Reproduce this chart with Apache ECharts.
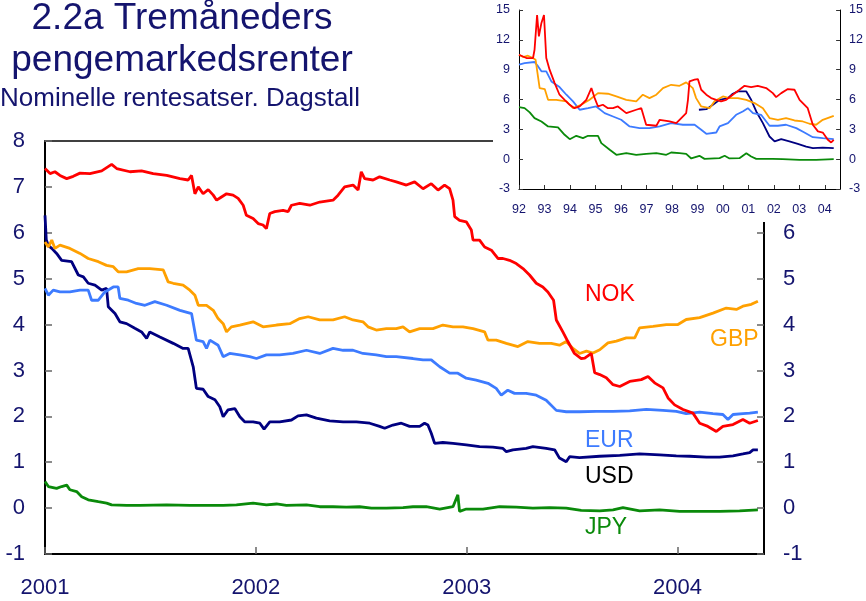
<!DOCTYPE html>
<html>
<head>
<meta charset="utf-8">
<script src="https://cdn.jsdelivr.net/npm/echarts@6/dist/echarts.min.js"></script>
<style>
  html, body { margin: 0; padding: 0; background: #fff; }
  #chart { width: 866px; height: 601px; }
</style>
</head>
<body>
<div id="chart"></div>
<script>
// main chart, daily rates 2001 - mid 2004, [year fraction, percent]
var nok = [
  [2001.000, 7.40], [2001.024, 7.29], [2001.047, 7.33], [2001.071, 7.25], [2001.103, 7.18], [2001.134, 7.23],
  [2001.166, 7.30], [2001.213, 7.29], [2001.269, 7.35], [2001.316, 7.49], [2001.340, 7.40], [2001.403, 7.33],
  [2001.458, 7.35], [2001.513, 7.29], [2001.577, 7.25], [2001.640, 7.18], [2001.679, 7.15], [2001.695, 7.25],
  [2001.711, 6.85], [2001.727, 7.00], [2001.750, 6.85], [2001.774, 6.94], [2001.798, 6.82], [2001.814, 6.71],
  [2001.837, 6.78], [2001.861, 6.85], [2001.892, 6.82], [2001.916, 6.75], [2001.940, 6.60], [2001.955, 6.38],
  [2001.987, 6.31], [2002.011, 6.20], [2002.034, 6.17], [2002.050, 6.09], [2002.066, 6.42], [2002.090, 6.46],
  [2002.129, 6.49], [2002.153, 6.46], [2002.169, 6.60], [2002.208, 6.64], [2002.256, 6.60], [2002.303, 6.67],
  [2002.366, 6.71], [2002.390, 6.82], [2002.421, 7.00], [2002.461, 7.04], [2002.485, 6.93], [2002.500, 7.33],
  [2002.516, 7.18], [2002.556, 7.15], [2002.587, 7.22], [2002.635, 7.15], [2002.666, 7.11], [2002.714, 7.04],
  [2002.753, 7.11], [2002.793, 6.96], [2002.832, 7.07], [2002.864, 6.93], [2002.895, 7.04], [2002.919, 6.96],
  [2002.935, 6.71], [2002.943, 6.35], [2002.966, 6.27], [2002.998, 6.24], [2003.022, 6.06], [2003.030, 5.84],
  [2003.061, 5.84], [2003.085, 5.69], [2003.117, 5.62], [2003.148, 5.44], [2003.172, 5.44], [2003.203, 5.40],
  [2003.235, 5.33], [2003.267, 5.22], [2003.298, 5.08], [2003.330, 4.90], [2003.361, 4.82], [2003.385, 4.71],
  [2003.412, 4.53], [2003.425, 4.10], [2003.456, 3.84], [2003.480, 3.63], [2003.511, 3.37], [2003.543, 3.26],
  [2003.560, 3.27], [2003.591, 3.37], [2003.607, 2.95], [2003.631, 2.91], [2003.662, 2.84], [2003.694, 2.69],
  [2003.726, 2.65], [2003.773, 2.76], [2003.828, 2.80], [2003.860, 2.87], [2003.891, 2.73], [2003.931, 2.62],
  [2003.955, 2.40], [2003.986, 2.25], [2004.026, 2.15], [2004.073, 2.07], [2004.105, 1.85], [2004.144, 1.78],
  [2004.184, 1.67], [2004.215, 1.78], [2004.263, 1.82], [2004.310, 1.93], [2004.342, 1.85], [2004.381, 1.91]
]
var gbp = [
  [2001.000, 5.80], [2001.016, 5.69], [2001.032, 5.84], [2001.047, 5.66], [2001.071, 5.73], [2001.118, 5.66],
  [2001.166, 5.55], [2001.205, 5.44], [2001.253, 5.37], [2001.292, 5.29], [2001.324, 5.26], [2001.347, 5.15],
  [2001.387, 5.15], [2001.442, 5.22], [2001.497, 5.22], [2001.561, 5.19], [2001.584, 4.93], [2001.608, 4.90],
  [2001.655, 4.86], [2001.687, 4.75], [2001.711, 4.64], [2001.727, 4.42], [2001.766, 4.42], [2001.798, 4.31],
  [2001.821, 4.13], [2001.845, 4.02], [2001.861, 3.84], [2001.884, 3.95], [2001.924, 3.99], [2001.987, 4.06],
  [2002.034, 3.95], [2002.098, 3.99], [2002.161, 4.02], [2002.208, 4.13], [2002.248, 4.17], [2002.303, 4.10],
  [2002.366, 4.10], [2002.421, 4.17], [2002.461, 4.10], [2002.508, 4.06], [2002.532, 3.95], [2002.571, 3.88],
  [2002.619, 3.91], [2002.666, 3.91], [2002.698, 3.95], [2002.729, 3.84], [2002.777, 3.91], [2002.840, 3.91],
  [2002.887, 3.99], [2002.935, 3.95], [2002.982, 3.95], [2003.030, 3.91], [2003.085, 3.84], [2003.101, 3.66],
  [2003.140, 3.66], [2003.188, 3.59], [2003.243, 3.52], [2003.290, 3.63], [2003.345, 3.59], [2003.401, 3.59],
  [2003.440, 3.55], [2003.472, 3.63], [2003.504, 3.48], [2003.535, 3.37], [2003.568, 3.42], [2003.599, 3.38],
  [2003.631, 3.45], [2003.670, 3.60], [2003.710, 3.64], [2003.757, 3.71], [2003.797, 3.71], [2003.820, 3.93],
  [2003.884, 3.96], [2003.947, 4.00], [2004.002, 4.00], [2004.041, 4.11], [2004.105, 4.15], [2004.168, 4.25],
  [2004.231, 4.36], [2004.279, 4.33], [2004.310, 4.40], [2004.350, 4.44], [2004.381, 4.51]
]
var eur = [
  [2001.000, 4.79], [2001.016, 4.64], [2001.039, 4.75], [2001.071, 4.71], [2001.118, 4.71], [2001.166, 4.75],
  [2001.205, 4.75], [2001.221, 4.53], [2001.253, 4.53], [2001.284, 4.71], [2001.324, 4.82], [2001.347, 4.82],
  [2001.355, 4.57], [2001.395, 4.53], [2001.434, 4.46], [2001.474, 4.42], [2001.521, 4.50], [2001.577, 4.42],
  [2001.640, 4.31], [2001.695, 4.24], [2001.718, 3.66], [2001.750, 3.63], [2001.766, 3.48], [2001.782, 3.66],
  [2001.821, 3.55], [2001.845, 3.30], [2001.876, 3.37], [2001.924, 3.34], [2001.971, 3.30], [2002.003, 3.26],
  [2002.050, 3.34], [2002.113, 3.34], [2002.176, 3.37], [2002.240, 3.44], [2002.303, 3.37], [2002.366, 3.48],
  [2002.414, 3.44], [2002.461, 3.44], [2002.508, 3.37], [2002.571, 3.34], [2002.619, 3.30], [2002.666, 3.30],
  [2002.745, 3.26], [2002.793, 3.23], [2002.832, 3.23], [2002.872, 3.08], [2002.919, 2.94], [2002.958, 2.94],
  [2002.998, 2.83], [2003.045, 2.79], [2003.101, 2.72], [2003.140, 2.61], [2003.164, 2.46], [2003.195, 2.57],
  [2003.227, 2.50], [2003.282, 2.50], [2003.330, 2.46], [2003.377, 2.35], [2003.425, 2.13], [2003.472, 2.10],
  [2003.535, 2.10], [2003.615, 2.11], [2003.694, 2.11], [2003.773, 2.12], [2003.852, 2.15], [2003.931, 2.13],
  [2003.994, 2.11], [2004.041, 2.06], [2004.105, 2.09], [2004.168, 2.06], [2004.215, 2.04], [2004.239, 1.93],
  [2004.263, 2.04], [2004.310, 2.06], [2004.342, 2.07], [2004.381, 2.09]
]
var usd = [
  [2001.000, 6.38], [2001.006, 5.85], [2001.016, 5.72], [2001.032, 5.66], [2001.055, 5.55], [2001.079, 5.40],
  [2001.126, 5.37], [2001.158, 5.08], [2001.182, 5.04], [2001.205, 4.90], [2001.237, 4.86], [2001.269, 4.75],
  [2001.292, 4.79], [2001.300, 4.39], [2001.332, 4.24], [2001.355, 4.06], [2001.387, 4.02], [2001.426, 3.92],
  [2001.458, 3.84], [2001.482, 3.70], [2001.497, 3.84], [2001.545, 3.73], [2001.608, 3.59], [2001.655, 3.48],
  [2001.679, 3.48], [2001.703, 3.08], [2001.718, 2.61], [2001.750, 2.59], [2001.774, 2.43], [2001.806, 2.36],
  [2001.829, 2.21], [2001.845, 1.99], [2001.868, 2.14], [2001.900, 2.17], [2001.924, 1.99], [2001.947, 1.88],
  [2001.987, 1.88], [2002.019, 1.85], [2002.039, 1.72], [2002.066, 1.88], [2002.113, 1.88], [2002.169, 1.92],
  [2002.200, 2.01], [2002.240, 2.03], [2002.287, 1.96], [2002.350, 1.90], [2002.414, 1.88], [2002.477, 1.88],
  [2002.540, 1.85], [2002.587, 1.78], [2002.611, 1.74], [2002.650, 1.81], [2002.690, 1.85], [2002.729, 1.78],
  [2002.777, 1.78], [2002.800, 1.85], [2002.816, 1.81], [2002.832, 1.63], [2002.848, 1.41], [2002.887, 1.43],
  [2002.935, 1.41], [2002.998, 1.38], [2003.061, 1.34], [2003.124, 1.33], [2003.172, 1.30], [2003.188, 1.23],
  [2003.219, 1.27], [2003.282, 1.30], [2003.314, 1.34], [2003.377, 1.30], [2003.417, 1.27], [2003.440, 1.09],
  [2003.472, 1.01], [2003.488, 1.12], [2003.535, 1.10], [2003.631, 1.13], [2003.726, 1.15], [2003.820, 1.18],
  [2003.915, 1.16], [2003.994, 1.14], [2004.057, 1.13], [2004.137, 1.11], [2004.199, 1.11], [2004.263, 1.14],
  [2004.310, 1.18], [2004.342, 1.21], [2004.358, 1.27], [2004.381, 1.27]
]
var jpy = [
  [2001.000, 0.58], [2001.016, 0.47], [2001.055, 0.43], [2001.079, 0.47], [2001.103, 0.50], [2001.118, 0.40],
  [2001.150, 0.36], [2001.174, 0.25], [2001.205, 0.18], [2001.253, 0.14], [2001.292, 0.11], [2001.316, 0.07],
  [2001.387, 0.06], [2001.450, 0.06], [2001.577, 0.07], [2001.687, 0.06], [2001.845, 0.06], [2001.908, 0.07],
  [2001.987, 0.11], [2002.050, 0.07], [2002.098, 0.09], [2002.145, 0.06], [2002.240, 0.07], [2002.303, 0.03],
  [2002.366, 0.03], [2002.429, 0.02], [2002.492, 0.03], [2002.548, 0.00], [2002.619, 0.00], [2002.698, 0.01],
  [2002.745, 0.03], [2002.808, 0.03], [2002.872, -0.02], [2002.935, 0.03], [2002.958, 0.29], [2002.966, -0.07],
  [2002.998, -0.02], [2003.077, -0.02], [2003.156, 0.03], [2003.235, 0.02], [2003.314, 0.00], [2003.393, 0.01],
  [2003.472, 0.00], [2003.543, -0.05], [2003.631, -0.06], [2003.694, -0.04], [2003.741, 0.01], [2003.820, -0.06],
  [2003.915, -0.04], [2004.010, -0.07], [2004.105, -0.07], [2004.199, -0.07], [2004.294, -0.06], [2004.381, -0.04]
]

// small chart, 1992 - 2004
var nokLong = [
  [1992.00, 10.5], [1992.29, 10.17], [1992.55, 10.17], [1992.61, 11.0], [1992.71, 14.5], [1992.78, 12.35],
  [1992.88, 13.7], [1992.98, 14.5], [1993.07, 10.17], [1993.20, 9.0], [1993.40, 7.65], [1993.59, 6.48],
  [1993.79, 5.97], [1993.99, 5.47], [1994.18, 5.13], [1994.38, 5.30], [1994.64, 5.97], [1994.84, 7.15],
  [1994.97, 6.14], [1995.10, 5.30], [1995.29, 5.47], [1995.49, 5.13], [1995.69, 5.13], [1995.88, 5.30],
  [1996.21, 4.63], [1996.60, 4.97], [1996.80, 5.13], [1996.99, 3.46], [1997.39, 3.36], [1997.52, 3.96],
  [1997.91, 3.79], [1998.17, 3.62], [1998.30, 3.96], [1998.56, 4.63], [1998.63, 5.97], [1998.69, 7.82],
  [1998.89, 7.99], [1999.02, 8.05], [1999.15, 6.98], [1999.35, 6.48], [1999.54, 6.14], [1999.74, 5.97],
  [1999.93, 5.81], [2000.13, 5.97], [2000.39, 6.48], [2000.65, 6.98], [2000.85, 7.38], [2001.11, 7.25],
  [2001.37, 7.38], [2001.70, 7.15], [2001.96, 6.64], [2002.09, 6.24], [2002.29, 6.64], [2002.55, 7.05],
  [2002.81, 6.98], [2003.01, 5.97], [2003.33, 5.13], [2003.53, 3.46], [2003.73, 2.79], [2003.92, 2.68],
  [2004.12, 1.95], [2004.25, 1.68], [2004.35, 1.95]
]
var gbpLong = [
  [1992.00, 10.5], [1992.16, 10.27], [1992.35, 10.4], [1992.55, 10.17], [1992.65, 10.0], [1992.81, 7.15],
  [1993.01, 7.05], [1993.14, 5.97], [1993.46, 5.97], [1993.86, 5.81], [1994.12, 5.13], [1994.44, 5.47],
  [1994.77, 5.97], [1995.10, 6.64], [1995.49, 6.58], [1995.82, 6.31], [1996.21, 5.97], [1996.60, 5.81],
  [1996.86, 6.48], [1997.12, 6.14], [1997.39, 6.48], [1997.65, 7.15], [1997.97, 7.48], [1998.30, 7.38],
  [1998.56, 7.72], [1998.82, 7.15], [1998.95, 6.14], [1999.15, 5.30], [1999.48, 5.13], [1999.67, 5.81],
  [2000.00, 6.31], [2000.26, 6.14], [2000.59, 6.14], [2000.92, 5.97], [2001.24, 5.64], [2001.57, 5.13],
  [2001.83, 4.13], [2002.16, 3.96], [2002.48, 4.13], [2002.81, 3.89], [2003.14, 3.79], [2003.40, 3.56],
  [2003.66, 3.46], [2003.92, 3.96], [2004.35, 4.36]
]
var eurLong = [
  [1992.00, 9.5], [1992.22, 9.66], [1992.61, 9.77], [1992.75, 9.33], [1992.88, 8.83], [1993.07, 8.83],
  [1993.27, 7.82], [1993.59, 7.25], [1993.86, 6.48], [1994.12, 5.81], [1994.38, 4.97], [1994.71, 5.13],
  [1995.03, 5.30], [1995.36, 4.63], [1995.69, 4.29], [1996.01, 3.96], [1996.34, 3.29], [1996.73, 3.12],
  [1997.12, 3.12], [1997.52, 3.29], [1997.97, 3.62], [1998.43, 3.46], [1998.89, 3.46], [1999.15, 2.95],
  [1999.35, 2.55], [1999.74, 2.68], [1999.87, 3.29], [2000.20, 3.62], [2000.52, 4.46], [2000.78, 4.80],
  [2000.98, 5.13], [2001.18, 4.63], [2001.50, 4.46], [2001.83, 3.36], [2002.16, 3.36], [2002.48, 3.46],
  [2002.88, 3.12], [2003.20, 2.68], [2003.53, 2.21], [2003.92, 2.11], [2004.35, 2.01]
]
var usdLong = [
  [1999.06, 4.97], [1999.35, 5.03], [1999.61, 5.47], [1999.87, 5.97], [2000.20, 6.14], [2000.39, 6.58],
  [2000.59, 6.81], [2000.92, 6.81], [2001.11, 5.97], [2001.31, 4.80], [2001.57, 3.62], [2001.83, 2.28],
  [2002.03, 1.78], [2002.29, 2.01], [2002.61, 1.78], [2002.94, 1.54], [2003.27, 1.27], [2003.53, 1.11],
  [2003.92, 1.17], [2004.35, 1.11]
]
var jpyLong = [
  [1992.00, 5.23], [1992.22, 5.13], [1992.42, 4.7], [1992.61, 4.13], [1992.88, 3.79], [1993.14, 3.29],
  [1993.53, 3.19], [1993.79, 2.45], [1993.99, 2.01], [1994.25, 2.35], [1994.51, 2.11], [1994.71, 2.35],
  [1995.10, 2.35], [1995.23, 1.61], [1995.56, 0.94], [1995.82, 0.44], [1996.21, 0.60], [1996.60, 0.44],
  [1996.99, 0.54], [1997.39, 0.60], [1997.78, 0.44], [1997.97, 0.67], [1998.30, 0.60], [1998.56, 0.54],
  [1998.76, 0.07], [1999.08, 0.34], [1999.28, 0.03], [1999.87, 0.10], [2000.07, 0.34], [2000.26, 0.07],
  [2000.65, 0.10], [2000.92, 0.60], [2001.11, 0.27], [2001.31, 0.03], [2001.96, 0.03], [2002.35, 0.00],
  [2003.01, -0.07], [2003.66, -0.07], [2004.35, 0.00]
]

var navy = '#14146e'
var font = 'Liberation Sans, Arial, sans-serif'

function mainLine(name, data, color) {
  return {
    name: name, type: 'line', data: data, xAxisIndex: 0, yAxisIndex: 0,
    showSymbol: false, animation: false,
    lineStyle: { color: color, width: 2.8 }
  }
}
function smallLine(name, data, color) {
  return {
    name: name, type: 'line', data: data, xAxisIndex: 2, yAxisIndex: 2,
    showSymbol: false, animation: false, z: 20,
    lineStyle: { color: color, width: 1.8 }
  }
}
function yearLabel(v) {
  return Number.isInteger(v) ? String(v) : ''
}
function shortYear(v) {
  return Number.isInteger(v) ? String(v).slice(2) : ''
}
function label(text, x, y, color) {
  return { type: 'text', x: x, y: y, z: 30, style: { text: text, fill: color, font: '23px ' + font, verticalAlign: 'middle' } }
}

var chart = echarts.init(document.getElementById('chart'))
var jpyOnSmall = smallLine('JPY', jpyLong, '#0a8a0a')
jpyOnSmall.markLine = {
  silent: true, symbol: 'none', animation: false,
  label: { show: false },
  lineStyle: { color: '#000', width: 1, type: 'solid' },
  data: [{ yAxis: 0 }]
}

chart.setOption({
  animation: false,
  backgroundColor: '#fff',
  textStyle: { fontFamily: font },
  grid: [
    { left: 45, top: 141, width: 719, height: 413 },
    { left: 519, top: 10, width: 322, height: 179 }
  ],
  xAxis: [
    {
      type: 'value', gridIndex: 0, min: 2001, max: 2004.41, interval: 1,
      splitLine: { show: false },
      axisLine: { onZero: false, lineStyle: { color: '#000', width: 2 } },
      axisTick: { inside: true, length: 7, lineStyle: { color: '#666', width: 1.5 } },
      axisLabel: { color: navy, fontSize: 22, margin: 23, formatter: yearLabel, showMaxLabel: false }
    },
    {
      type: 'value', gridIndex: 0, position: 'top', min: 2001, max: 2004.41,
      splitLine: { show: false },
      axisLine: { onZero: false, lineStyle: { color: '#404040', width: 2 } },
      axisTick: { show: false }, axisLabel: { show: false }
    },
    {
      type: 'value', gridIndex: 1, min: 1992, max: 2004.6, interval: 1, z: 20,
      splitLine: { show: false },
      axisLine: { onZero: false, lineStyle: { color: '#000', width: 1 } },
      axisTick: { inside: true, length: 4, lineStyle: { color: '#333' } },
      axisLabel: { color: navy, fontSize: 12.5, margin: 14, formatter: shortYear, showMaxLabel: false }
    }
  ],
  yAxis: [
    {
      type: 'value', gridIndex: 0, min: -1, max: 8, interval: 1,
      splitLine: { show: false },
      axisLine: { show: true, onZero: false, lineStyle: { color: '#000', width: 2 } },
      axisTick: { show: true, inside: true, length: 7, lineStyle: { color: '#666', width: 1.5 } },
      axisLabel: { color: navy, fontSize: 22, margin: 20 }
    },
    {
      type: 'value', gridIndex: 0, position: 'right', min: -1, max: 8, interval: 1,
      splitLine: { show: false },
      axisLine: { show: true, onZero: false, lineStyle: { color: '#000', width: 2 } },
      axisTick: { show: true, inside: true, length: 7, lineStyle: { color: '#666', width: 1.5 } },
      axisLabel: { color: navy, fontSize: 22, margin: 19 }
    },
    {
      type: 'value', gridIndex: 1, min: -3, max: 15, interval: 3, z: 20,
      splitLine: { show: false },
      axisLine: { show: true, onZero: false, lineStyle: { color: '#000', width: 1 } },
      axisTick: { show: true, inside: true, length: 4, lineStyle: { color: '#333' } },
      axisLabel: { color: navy, fontSize: 12.5, margin: 9 }
    },
    {
      type: 'value', gridIndex: 1, position: 'right', min: -3, max: 15, interval: 3, z: 20,
      splitLine: { show: false },
      axisLine: { show: true, onZero: false, lineStyle: { color: '#000', width: 1 } },
      axisTick: { show: true, inside: true, length: 4, lineStyle: { color: '#333' } },
      axisLabel: { color: navy, fontSize: 12.5, margin: 9 }
    }
  ],
  graphic: [
    { type: 'rect', z: 10, shape: { x: 493, y: 0, width: 373, height: 222 }, style: { fill: '#fff' } },
    { type: 'text', x: 182, y: 19, z: 30, style: { text: '2.2a Tremåneders', fill: navy, font: '37px ' + font, align: 'center', verticalAlign: 'middle' } },
    { type: 'text', x: 182, y: 61, z: 30, style: { text: 'pengemarkedsrenter', fill: navy, font: '37px ' + font, align: 'center', verticalAlign: 'middle' } },
    { type: 'text', x: 180, y: 99, z: 30, style: { text: 'Nominelle rentesatser. Dagstall', fill: navy, font: '26px ' + font, align: 'center', verticalAlign: 'middle' } },
    label('NOK', 585, 295, '#ff0000'),
    label('GBP', 710, 340, '#ffa000'),
    label('EUR', 585, 441, '#3d7bff'),
    label('USD', 585, 477, '#000000'),
    label('JPY', 585, 528, '#0a8a0a')
  ],
  series: [
    mainLine('JPY', jpy, '#0a8a0a'),
    mainLine('USD', usd, '#000080'),
    mainLine('EUR', eur, '#3d7bff'),
    mainLine('GBP', gbp, '#ffa000'),
    mainLine('NOK', nok, '#ff0000'),
    jpyOnSmall,
    smallLine('USD', usdLong, '#000080'),
    smallLine('EUR', eurLong, '#3d7bff'),
    smallLine('GBP', gbpLong, '#ffa000'),
    smallLine('NOK', nokLong, '#ff0000')
  ]
})
</script>
</body>
</html>
